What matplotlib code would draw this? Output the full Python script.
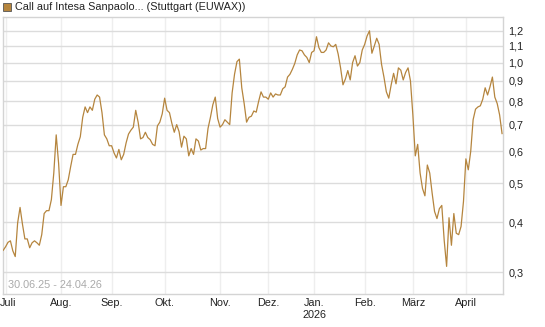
import matplotlib
matplotlib.use('Agg')
import matplotlib.pyplot as plt
from matplotlib.patches import Rectangle
from matplotlib.ticker import FixedLocator, NullLocator
from matplotlib.transforms import ScaledTranslation
import numpy as np
import pandas as pd

plt.rcParams['font.family'] = ['Liberation Sans', 'DejaVu Sans']

# trading days at Stuttgart (EUWAX), 30.06.25 - 24.04.26
holidays = ['2025-12-24', '2025-12-25', '2025-12-26', '2025-12-31',
            '2026-01-01', '2026-04-03', '2026-04-06']
dates = pd.bdate_range('2025-06-30', '2026-04-24', freq='C', holidays=holidays)

# closing prices (EUR), one per trading day
prices = [
    0.340, 0.347, 0.356, 0.359, 0.339, 0.328, 0.398, 0.435, 0.395, 0.363,
    0.363, 0.345, 0.355, 0.359, 0.355, 0.350, 0.372, 0.420, 0.427, 0.427,
    0.455, 0.530, 0.660, 0.560, 0.440,
    0.490, 0.490, 0.510, 0.550, 0.590, 0.590, 0.625, 0.653, 0.730, 0.775,
    0.750, 0.775, 0.760, 0.810, 0.830, 0.820, 0.750, 0.660, 0.645, 0.620,
    0.620,
    0.595, 0.578, 0.607, 0.572, 0.590, 0.630, 0.663, 0.678, 0.690, 0.760,
    0.710, 0.645, 0.650, 0.670, 0.650, 0.642, 0.625, 0.620, 0.695, 0.710,
    0.745, 0.815,
    0.760, 0.750, 0.705, 0.670, 0.700, 0.672, 0.615, 0.655, 0.645, 0.585,
    0.610, 0.590, 0.645, 0.637, 0.605, 0.610, 0.610, 0.685, 0.730, 0.785,
    0.820, 0.725, 0.690,
    0.700, 0.720, 0.710, 0.700, 0.840, 0.935, 1.005, 1.020, 0.865, 0.790,
    0.710, 0.730, 0.735, 0.757, 0.752, 0.800, 0.845, 0.820, 0.820, 0.810,
    0.840, 0.820, 0.835, 0.830, 0.830, 0.860, 0.870, 0.920, 0.935, 0.962,
    0.995, 1.045, 1.075, 1.070, 1.045, 1.030, 1.000, 1.060, 1.070,
    1.160, 1.090, 1.060, 1.060, 1.075, 1.120, 1.100, 1.095, 1.110, 1.050,
    0.970, 0.880, 0.910, 0.955, 0.905, 1.000, 1.040, 0.980, 1.000, 1.075,
    1.110,
    1.165, 1.200, 1.055, 1.100, 1.150, 1.110, 0.990, 0.920, 0.845, 0.815,
    0.880, 0.940, 0.885, 0.970, 0.957, 0.905, 0.945, 0.970, 0.900, 0.740,
    0.585, 0.625, 0.530, 0.485, 0.465, 0.555, 0.530, 0.472, 0.425, 0.408,
    0.432, 0.440, 0.360, 0.310, 0.410, 0.350, 0.420, 0.375, 0.372, 0.390,
    0.450, 0.575,
    0.540, 0.600, 0.720, 0.765, 0.775, 0.780, 0.810, 0.865, 0.830, 0.870,
    0.920, 0.820, 0.790, 0.740, 0.665,
]

month_names = ['Juli', 'Aug.', 'Sep.', 'Okt.', 'Nov.', 'Dez.', 'Jan.\n2026',
               'Feb.', 'März', 'April']
y_ticks = [0.3, 0.4, 0.5, 0.6, 0.7, 0.8, 0.9, 1.0, 1.1, 1.2]

line_color = '#b5853e'

fig = plt.figure(figsize=(5.45, 3.27), dpi=100)
ax = fig.add_axes([2.7 / 545, 1 - 294 / 327, 500.3 / 545, 277.5 / 327])

x = np.arange(len(prices))
ax.plot(x, prices, color=line_color, linewidth=0.9, zorder=3)

ax.set_yscale('log')
ax.set_ylim(0.2645, 1.303)
ax.set_xlim(-0.2, 207.4)

# first trading day of every month
month_idx = [i for i in range(1, len(dates)) if dates[i].month != dates[i - 1].month]
ax.xaxis.set_major_locator(FixedLocator(month_idx))
ax.set_xticklabels(month_names[:len(month_idx)])
ax.yaxis.set_major_locator(FixedLocator(y_ticks))
ax.yaxis.set_minor_locator(NullLocator())
ax.set_yticklabels([f'{v:.1f}'.replace('.', ',') for v in y_ticks])

ax.yaxis.tick_right()
ax.tick_params(axis='both', length=0, labelsize=7.8, colors='#222222')
ax.tick_params(axis='y', pad=4)
ax.tick_params(axis='x', pad=3)

# keep "Juli" inside the figure
first = ax.get_xticklabels()[0]
first.set_horizontalalignment('left')
first.set_transform(first.get_transform() + ScaledTranslation(-5.5 / 100, 0, fig.dpi_scale_trans))

ax.grid(True, axis='y', color='#dcdcdc', linewidth=1.0, zorder=0)
ax.grid(True, axis='x', color='#eeeeee', linewidth=1.0, zorder=0)
for s in ax.spines.values():
    s.set_color('#d4d4d4')
    s.set_linewidth(1.0)

ax.text(0.01, 0.015, '30.06.25 - 24.04.26', transform=ax.transAxes,
        fontsize=7.8, color='#aaaaaa', ha='left', va='bottom')

# title with colour marker
fig.patches.append(Rectangle((3 / 545, 1 - 11 / 327), 8 / 545, 8 / 327,
                             transform=fig.transFigure, facecolor=line_color,
                             edgecolor='#555555', linewidth=0.6))
fig.text(15 / 545, 1 - 7 / 327, 'Call auf Intesa Sanpaolo... (Stuttgart (EUWAX))',
         fontsize=7.8, color='#222222', ha='left', va='center')

fig.savefig('out.png', dpi=100)
